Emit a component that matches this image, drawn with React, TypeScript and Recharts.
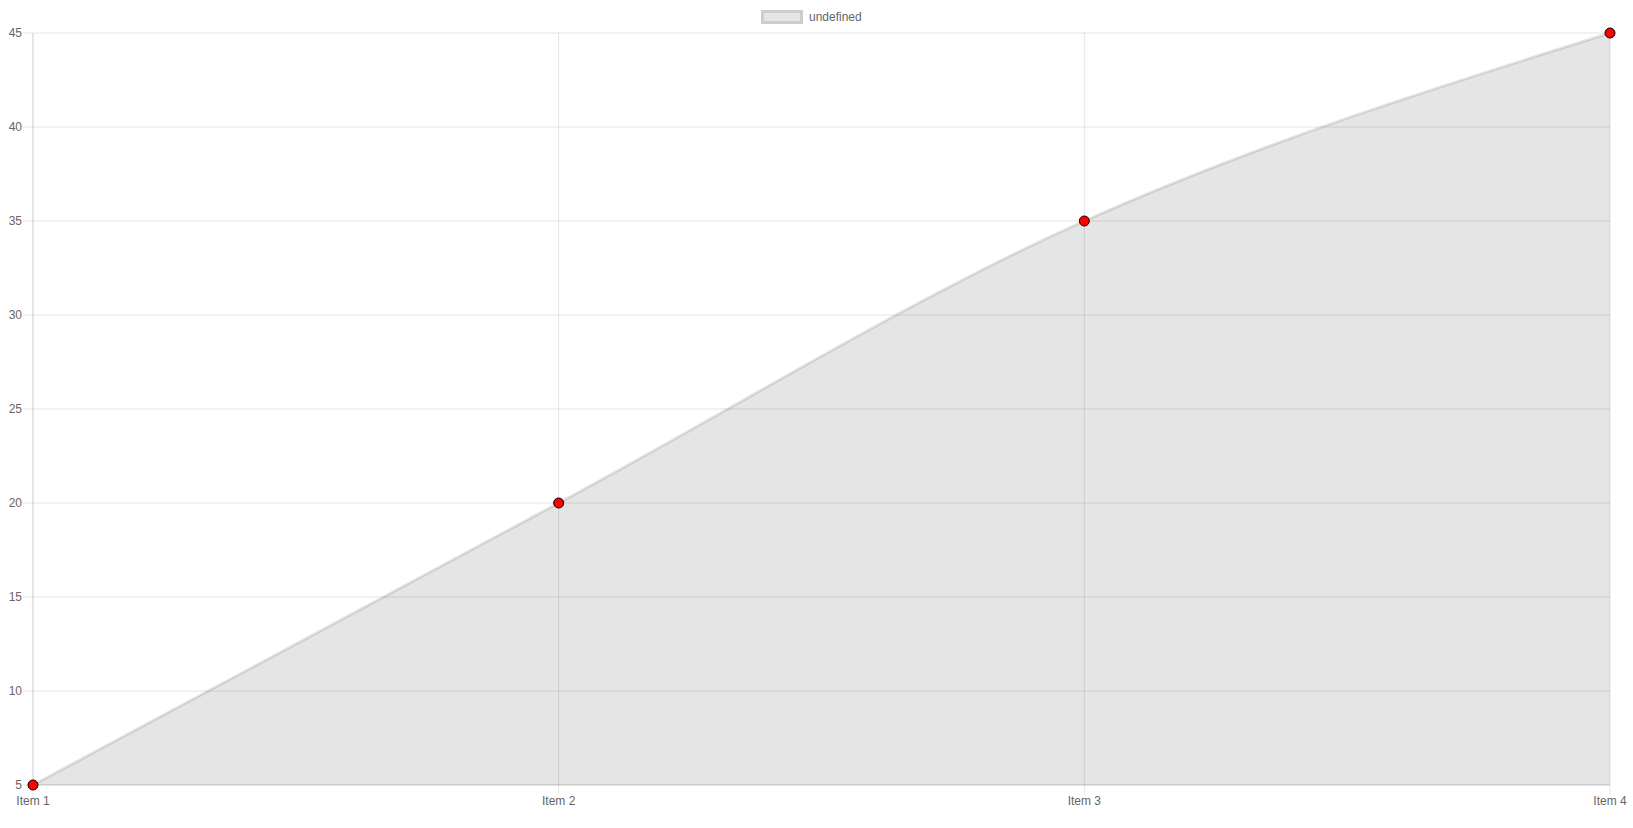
import React from 'react';
import { AreaChart, Area, XAxis, YAxis, CartesianGrid } from 'recharts';

const categories = ['Item 1', 'Item 2', 'Item 3', 'Item 4'];
const values = [5, 20, 35, 45];
const yTicks = [5, 10, 15, 20, 25, 30, 35, 40, 45];
const seriesName = 'undefined';

const data = categories.map((name, i) => ({ name, value: values[i] }));

const GRID = 'rgba(0,0,0,0.1)';
const FONT = '"Liberation Sans", Arial, Helvetica, sans-serif';

// legend drawn outside Recharts so it doesn't eat into the plot area
const LegendBox = () => (
  <div
    style={{
      position: 'absolute',
      top: 10,
      left: 761,
      display: 'flex',
      alignItems: 'center',
      fontFamily: FONT,
      fontSize: 12,
      color: '#666',
      lineHeight: '14px',
    }}
  >
    <span
      style={{
        display: 'inline-block',
        width: 36,
        height: 8,
        background: 'rgba(0,0,0,0.1)',
        border: '3px solid rgba(0,0,0,0.1)',
        marginRight: 6,
      }}
    />
    <span>{seriesName}</span>
  </div>
);

export default function App() {
  return (
    <div style={{ position: 'absolute', top: 0, left: 0, width: 1633, height: 828, background: '#fff' }}>
      <AreaChart
        width={1633}
        height={828}
        data={data}
        margin={{ top: 33, right: 23, bottom: 18, left: 0 }}
      >
        <CartesianGrid stroke={GRID} vertical horizontal />
        <XAxis
          dataKey="name"
          tickSize={10}
          tickMargin={1}
          axisLine={{ stroke: GRID }}
          tickLine={{ stroke: GRID }}
          tick={{ fill: '#666', fontSize: 12, fontFamily: FONT }}
          height={25}
          interval={0}
        />
        <YAxis
          domain={[5, 45]}
          ticks={yTicks}
          width={33}
          tickSize={10}
          tickMargin={1}
          axisLine={{ stroke: GRID }}
          tickLine={{ stroke: GRID }}
          tick={{ fill: '#666', fontSize: 12, fontFamily: FONT }}
          interval={0}
        />
        <Area
          type="monotone"
          dataKey="value"
          name={seriesName}
          stroke="rgba(0,0,0,0.1)"
          strokeWidth={3}
          fill="rgba(0,0,0,0.1)"
          fillOpacity={1}
          dot={{ r: 5, fill: '#ff0000', stroke: '#000', strokeWidth: 1, fillOpacity: 1 }}
          activeDot={false}
          isAnimationActive={false}
        />
      </AreaChart>
      <LegendBox />
    </div>
  );
}
